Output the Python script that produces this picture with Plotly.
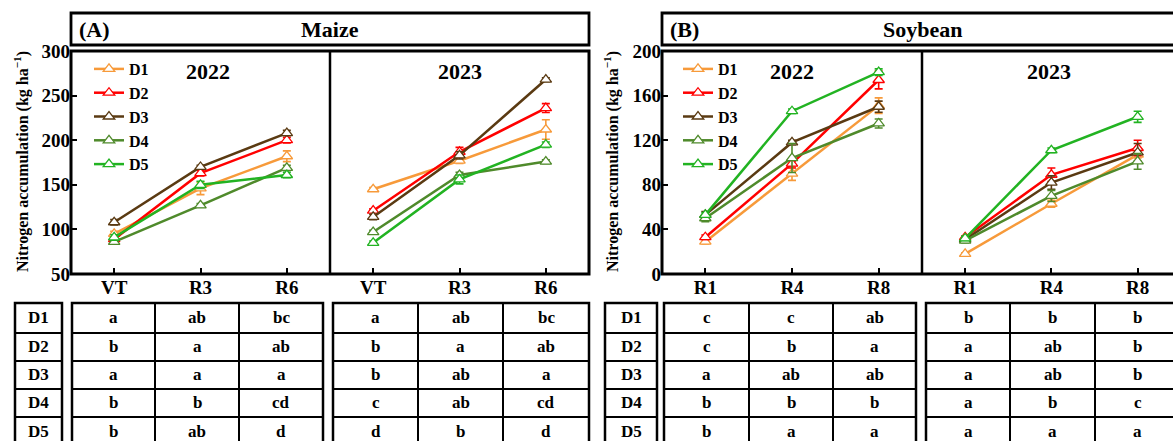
import plotly.graph_objects as go

W, H = 1173, 441
FONT = "Liberation Serif"

treatments = ["D1", "D2", "D3", "D4", "D5"]
colors = {"D1": "#F79A3A", "D2": "#FF0000", "D3": "#5A3A12", "D4": "#4F8A2B", "D5": "#22B322"}

maize_stages = ["VT", "R3", "R6"]
soy_stages = ["R1", "R4", "R8"]

maize_2022 = {"D1": [95, 146, 182], "D2": [89, 163, 200], "D3": [108, 170, 208],
              "D4": [86, 127, 169], "D5": [91, 150, 161]}
maize_2022_err = {"D1": [3, 7, 6], "D2": [2, 3, 3], "D3": [3, 2, 3],
                  "D4": [2, 2, 3], "D5": [3, 4, 3]}
maize_2023 = {"D1": [145, 177, 212], "D2": [121, 187, 236], "D3": [114, 183, 268],
              "D4": [97, 161, 176], "D5": [85, 156, 195]}
maize_2023_err = {"D1": [2, 3, 11], "D2": [2, 5, 5], "D3": [3, 4, 2],
                  "D4": [2, 3, 2], "D5": [2, 5, 3]}
soy_2022 = {"D1": [29, 90, 151], "D2": [33, 99, 174], "D3": [53, 118, 150],
            "D4": [50, 104, 135], "D5": [53, 146, 181]}
soy_2022_err = {"D1": [2, 6, 7], "D2": [2, 4, 8], "D3": [3, 2, 5],
                "D4": [3, 13, 4], "D5": [2, 2, 3]}
soy_2023 = {"D1": [18, 63, 107], "D2": [33, 89, 113], "D3": [31, 82, 109],
            "D4": [30, 70, 101], "D5": [32, 111, 141]}
soy_2023_err = {"D1": [1, 3, 3], "D2": [1, 6, 7], "D3": [2, 6, 8],
                "D4": [2, 5, 7], "D5": [2, 2, 5]}

maize_2022_letters = {"D1": ["a", "ab", "bc"], "D2": ["b", "a", "ab"], "D3": ["a", "a", "a"],
                      "D4": ["b", "b", "cd"], "D5": ["b", "ab", "d"]}
maize_2023_letters = {"D1": ["a", "ab", "bc"], "D2": ["b", "a", "ab"], "D3": ["b", "ab", "a"],
                      "D4": ["c", "ab", "cd"], "D5": ["d", "b", "d"]}
soy_2022_letters = {"D1": ["c", "c", "ab"], "D2": ["c", "b", "a"], "D3": ["a", "ab", "ab"],
                    "D4": ["b", "b", "b"], "D5": ["b", "a", "a"]}
soy_2023_letters = {"D1": ["b", "b", "b"], "D2": ["a", "ab", "b"], "D3": ["a", "ab", "b"],
                    "D4": ["a", "b", "c"], "D5": ["a", "a", "a"]}


def px(x):
    return x / W


def py(y):
    return 1 - y / H


fig = go.Figure()

panels = [
    ("x", "y", maize_stages, maize_2022, maize_2022_err, "legend"),
    ("x2", "y2", maize_stages, maize_2023, maize_2023_err, None),
    ("x3", "y3", soy_stages, soy_2022, soy_2022_err, "legend2"),
    ("x4", "y4", soy_stages, soy_2023, soy_2023_err, None),
]
for xa, ya, stages, vals, errs, leg in panels:
    for t in treatments:
        c = colors[t]
        fig.add_trace(go.Scatter(
            x=stages, y=vals[t], xaxis=xa, yaxis=ya, name=t,
            mode="lines+markers",
            line=dict(color=c, width=2.5),
            marker=dict(symbol="triangle-up", size=10, color="white",
                        line=dict(color=c, width=1.3)),
            error_y=dict(type="data", array=errs[t], color=c, thickness=1.6, width=4),
            showlegend=leg is not None,
            legend=leg if leg else "legend",
        ))

ytop, ybot = 51, 274
ydom = [py(ybot), py(ytop)]
tickfont = dict(family=FONT, size=19, color="black", weight="bold")

xcommon = dict(type="category", showgrid=False, zeroline=False, showline=False,
               ticks="inside", ticklen=6, tickwidth=2, tickcolor="black",
               tickfont=tickfont, fixedrange=True, automargin=False)
ycommon = dict(domain=ydom, showgrid=False, zeroline=False, showline=False,
               automargin=False, fixedrange=True)
fig.update_layout(
    xaxis=dict(domain=[px(71), px(330)], range=[-0.5, 2.5], anchor="y", **xcommon),
    xaxis2=dict(domain=[px(330), px(589)], range=[-0.5, 2.5], anchor="y2", **xcommon),
    xaxis3=dict(domain=[px(662), px(922)], range=[-0.5, 2.5], anchor="y3", **xcommon),
    xaxis4=dict(domain=[px(922), 1.0], range=[-0.5, 2.41], anchor="y4", **xcommon),
    yaxis=dict(range=[50, 300], dtick=50, anchor="x", ticks="inside", ticklen=6,
               tickwidth=2, tickcolor="black", tickfont=tickfont, **ycommon),
    yaxis2=dict(range=[50, 300], anchor="x2", showticklabels=False, ticks="", **ycommon),
    yaxis3=dict(range=[0, 200], dtick=40, anchor="x3", ticks="inside", ticklen=6,
                tickwidth=2, tickcolor="black", tickfont=tickfont, **ycommon),
    yaxis4=dict(range=[0, 200], anchor="x4", showticklabels=False, ticks="", **ycommon),
)

legfont = dict(family=FONT, size=16, color="black", weight="bold")
fig.update_layout(
    legend=dict(x=px(89), y=py(52), xanchor="left", yanchor="top", font=legfont,
                bgcolor="rgba(0,0,0,0)", borderwidth=0, tracegroupgap=0),
    legend2=dict(x=px(678), y=py(52), xanchor="left", yanchor="top", font=legfont,
                 bgcolor="rgba(0,0,0,0)", borderwidth=0, tracegroupgap=0),
)

shapes = []
for x0, x1, xd in [(71, 589, 330), (662, 1185, 922)]:
    shapes.append(dict(type="rect", xref="paper", yref="paper", x0=px(x0), x1=px(x1),
                       y0=py(ybot), y1=py(ytop), line=dict(color="black", width=3)))
    shapes.append(dict(type="line", xref="paper", yref="paper", x0=px(xd), x1=px(xd),
                       y0=py(ybot), y1=py(ytop), line=dict(color="black", width=2.5)))
    shapes.append(dict(type="rect", xref="paper", yref="paper", x0=px(x0), x1=px(x1),
                       y0=py(45), y1=py(13), line=dict(color="black", width=2.8)))

annotations = []
titlefont = dict(family=FONT, size=22, color="black", weight="bold")
for txt, x, anchor in [("(A)", 77, "left"), ("Maize", 330, "center"),
                       ("(B)", 668, "left"), ("Soybean", 922, "center")]:
    annotations.append(dict(text=txt, x=px(x), y=py(29), xref="paper", yref="paper",
                            xanchor=anchor, yanchor="middle", showarrow=False, font=titlefont))
for txt, x in [("2022", 208), ("2023", 460), ("2022", 792), ("2023", 1049)]:
    annotations.append(dict(text=txt, x=px(x), y=py(71), xref="paper", yref="paper",
                            xanchor="center", yanchor="middle", showarrow=False, font=titlefont))
for x in [22, 612]:
    annotations.append(dict(text="Nitrogen accumulation (kg ha<sup>−1</sup>)", x=px(x), y=py(162),
                            xref="paper", yref="paper", xanchor="center", yanchor="middle",
                            textangle=-90, showarrow=False,
                            font=dict(family=FONT, size=16, color="black", weight="bold")))

row_edges = [303, 333, 361, 389, 417, 447]
cellfont = dict(family=FONT, size=17, color="black", weight="bold")


def add_table(col_edges, letters):
    x0, x1 = col_edges[0], col_edges[-1]
    shapes.append(dict(type="rect", xref="paper", yref="paper", x0=px(x0), x1=px(x1),
                       y0=py(row_edges[-1]), y1=py(row_edges[0]),
                       line=dict(color="black", width=2.5)))
    for r in row_edges[1:-1]:
        shapes.append(dict(type="line", xref="paper", yref="paper", x0=px(x0), x1=px(x1),
                           y0=py(r), y1=py(r), line=dict(color="black", width=2)))
    for c in col_edges[1:-1]:
        shapes.append(dict(type="line", xref="paper", yref="paper", x0=px(c), x1=px(c),
                           y0=py(row_edges[-1]), y1=py(row_edges[0]),
                           line=dict(color="black", width=2)))
    for i, t in enumerate(treatments):
        yc = (row_edges[i] + row_edges[i + 1]) / 2 - 1
        labs = [t] if letters is None else letters[t]
        for j, lab in enumerate(labs):
            xc = (col_edges[j] + col_edges[j + 1]) / 2
            annotations.append(dict(text=lab, x=px(xc), y=py(yc), xref="paper", yref="paper",
                                    xanchor="center", yanchor="middle", showarrow=False,
                                    font=cellfont))


add_table([15, 62], None)
add_table([72, 155, 239, 323], maize_2022_letters)
add_table([333, 418, 503, 589], maize_2023_letters)
add_table([605, 657], None)
add_table([664, 749, 833, 916], soy_2022_letters)
add_table([926, 1010, 1095, 1180], soy_2023_letters)

fig.update_layout(
    width=W, height=H, margin=dict(l=0, r=0, t=0, b=0, autoexpand=False),
    paper_bgcolor="white", plot_bgcolor="white",
    shapes=shapes, annotations=annotations,
    font=dict(family=FONT, color="black"),
)

fig.write_html("out.html", config={"displayModeBar": False},
               post_script="document.body.style.margin='0';document.body.style.overflow='hidden';")
